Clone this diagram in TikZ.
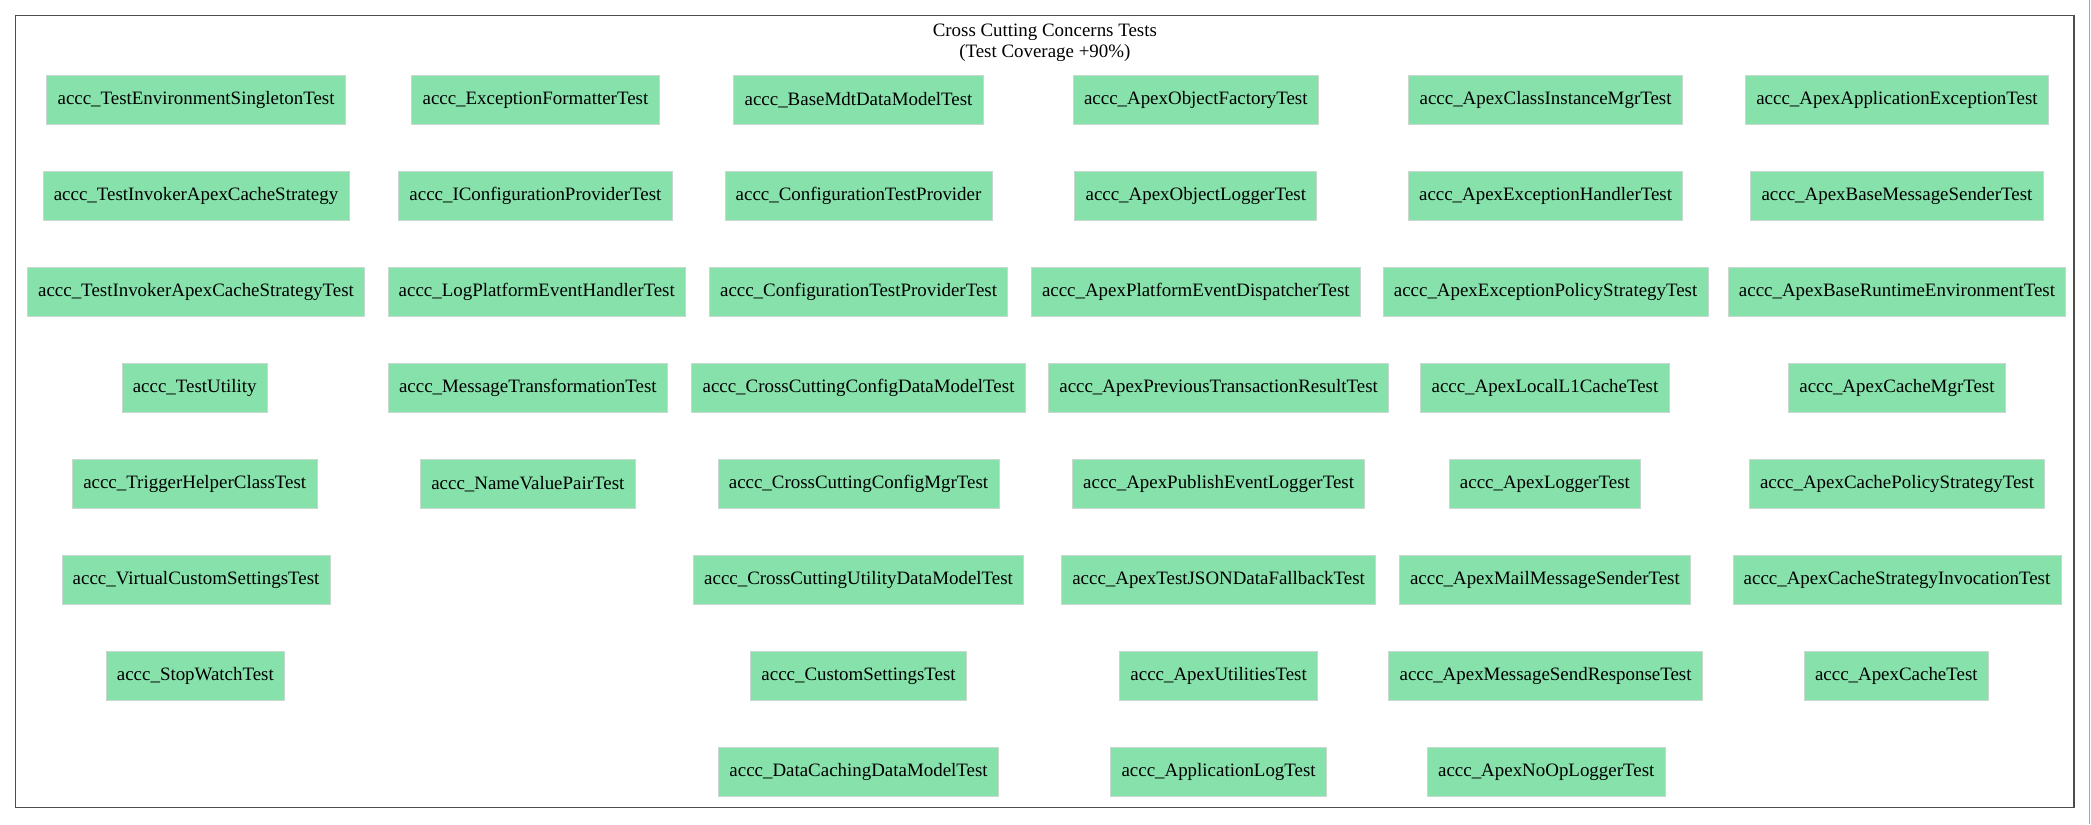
\documentclass[tikz,border=0pt]{standalone}
\usepackage{fontspec}
\setmainfont{Liberation Serif}
\definecolor{boxfill}{HTML}{86E1AA}
\definecolor{boxline}{HTML}{C6D9CC}
\definecolor{framecol}{HTML}{4D4D4D}
\begin{document}
\begin{tikzpicture}[x=0.9868pt,y=-0.9868pt,
  testbox/.style={rectangle, fill=boxfill, draw=boxline, line width=0.6pt,
    minimum height=36pt, inner xsep=8pt, inner ysep=0pt,
    font=\fontsize{14}{16}\selectfont},
  titletext/.style={anchor=base, inner sep=0pt, font=\fontsize{14}{16}\selectfont}]
\useasboundingbox (0,0) rectangle (1568,618);
\fill[white] (0,0) rectangle (1568,618);
\draw[framecol, line width=0.9pt] (11.7,11.5) rectangle (1555.3,605.5);
\draw[gray!70, line width=0.5pt] (1566.8,0) -- (1566.8,618);
\node[titletext] (title1) at (783.5,27.2) {Cross Cutting Concerns Tests};
\node[titletext] (title2) at (783.5,42.8) {(Test Coverage +90\%)};
% row 1
\node[testbox] (r1c1) at (147,75) {accc\_TestEnvironmentSingletonTest};
\node[testbox] (r1c2) at (401.5,75) {accc\_ExceptionFormatterTest};
\node[testbox] (r1c3) at (643.8,75) {accc\_BaseMdtDataModelTest};
\node[testbox] (r1c4) at (896.7,75) {accc\_ApexObjectFactoryTest};
\node[testbox] (r1c5) at (1159,75) {accc\_ApexClassInstanceMgrTest};
\node[testbox] (r1c6) at (1422.5,75) {accc\_ApexApplicationExceptionTest};
% row 2
\node[testbox] (r2c1) at (147,147) {accc\_TestInvokerApexCacheStrategy};
\node[testbox] (r2c2) at (401.5,147) {accc\_IConfigurationProviderTest};
\node[testbox] (r2c3) at (643.8,147) {accc\_ConfigurationTestProvider};
\node[testbox] (r2c4) at (896.7,147) {accc\_ApexObjectLoggerTest};
\node[testbox] (r2c5) at (1159,147) {accc\_ApexExceptionHandlerTest};
\node[testbox] (r2c6) at (1422.5,147) {accc\_ApexBaseMessageSenderTest};
% row 3
\node[testbox] (r3c1) at (147,219) {accc\_TestInvokerApexCacheStrategyTest};
\node[testbox] (r3c2) at (402.5,219) {accc\_LogPlatformEventHandlerTest};
\node[testbox] (r3c3) at (643.8,219) {accc\_ConfigurationTestProviderTest};
\node[testbox] (r3c4) at (896.7,219) {accc\_ApexPlatformEventDispatcherTest};
\node[testbox] (r3c5) at (1159,219) {accc\_ApexExceptionPolicyStrategyTest};
\node[testbox] (r3c6) at (1422.5,219) {accc\_ApexBaseRuntimeEnvironmentTest};
% row 4
\node[testbox] (r4c1) at (146,291) {accc\_TestUtility};
\node[testbox] (r4c2) at (395.8,291) {accc\_MessageTransformationTest};
\node[testbox] (r4c3) at (643.8,291) {accc\_CrossCuttingConfigDataModelTest};
\node[testbox] (r4c4) at (913.8,291) {accc\_ApexPreviousTransactionResultTest};
\node[testbox] (r4c5) at (1158.5,291) {accc\_ApexLocalL1CacheTest};
\node[testbox] (r4c6) at (1422.5,291) {accc\_ApexCacheMgrTest};
% row 5
\node[testbox] (r5c1) at (146,363) {accc\_TriggerHelperClassTest};
\node[testbox] (r5c2) at (395.8,363) {accc\_NameValuePairTest};
\node[testbox] (r5c3) at (643.8,363) {accc\_CrossCuttingConfigMgrTest};
\node[testbox] (r5c4) at (913.8,363) {accc\_ApexPublishEventLoggerTest};
\node[testbox] (r5c5) at (1158.5,363) {accc\_ApexLoggerTest};
\node[testbox] (r5c6) at (1422.5,363) {accc\_ApexCachePolicyStrategyTest};
% row 6
\node[testbox] (r6c1) at (147,435) {accc\_VirtualCustomSettingsTest};
\node[testbox] (r6c3) at (643.8,435) {accc\_CrossCuttingUtilityDataModelTest};
\node[testbox] (r6c4) at (913.8,435) {accc\_ApexTestJSONDataFallbackTest};
\node[testbox] (r6c5) at (1158.5,435) {accc\_ApexMailMessageSenderTest};
\node[testbox] (r6c6) at (1422.5,435) {accc\_ApexCacheStrategyInvocationTest};
% row 7
\node[testbox] (r7c1) at (146.5,507) {accc\_StopWatchTest};
\node[testbox] (r7c3) at (643.8,507) {accc\_CustomSettingsTest};
\node[testbox] (r7c4) at (913.8,507) {accc\_ApexUtilitiesTest};
\node[testbox] (r7c5) at (1159,507) {accc\_ApexMessageSendResponseTest};
\node[testbox] (r7c6) at (1422,507) {accc\_ApexCacheTest};
% row 8
\node[testbox] (r8c3) at (643.8,579) {accc\_DataCachingDataModelTest};
\node[testbox] (r8c4) at (913.8,579) {accc\_ApplicationLogTest};
\node[testbox] (r8c5) at (1159.5,579) {accc\_ApexNoOpLoggerTest};
\end{tikzpicture}
\end{document}
